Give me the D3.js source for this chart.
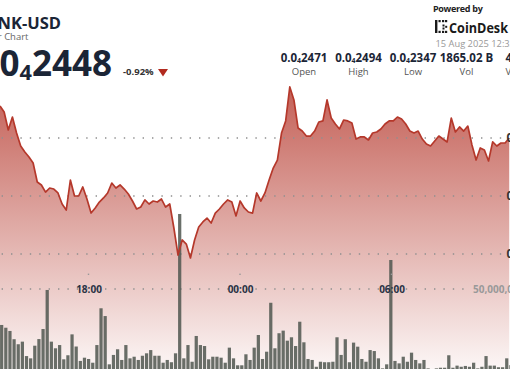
<!DOCTYPE html>
<html><head><meta charset="utf-8">
<script src="https://cdn.jsdelivr.net/npm/d3@7"></script>
<style>html,body{margin:0;padding:0;background:#fff;overflow:hidden}svg{display:block;font-family:"Open Sans","Noto Sans",sans-serif}</style>
</head><body>
<svg id="c" width="510" height="369"></svg>
<script>
// ---- data (price in units of 0.0₄xxxx, i.e. 1e-8 USD; volume in millions) ----
const prices = [2477.6, 2472.4, 2456.9, 2468.1, 2454.3, 2443.1, 2437.9, 2433.6, 2428.4, 2412.1,
 2409.5, 2403.4, 2406.9, 2406.0, 2402.6, 2393.1, 2387.9, 2413.8, 2400.0, 2400.0,
 2407.8, 2397.4, 2385.3, 2389.7, 2394.8, 2398.3, 2402.6, 2411.2, 2406.9, 2409.5,
 2406.0, 2401.7, 2395.7, 2388.8, 2390.5, 2396.6, 2393.1, 2395.7, 2394.8, 2397.4,
 2390.5, 2393.1, 2372.4, 2349.1, 2362.1, 2358.6, 2346.6, 2362.1, 2373.3, 2377.6,
 2381.0, 2376.7, 2385.3, 2388.8, 2393.1, 2396.6, 2394.8, 2382.8, 2395.7, 2389.7,
 2386.2, 2385.3, 2402.6, 2395.7, 2402.6, 2413.8, 2424.1, 2431.0, 2454.3, 2464.7,
 2494.0, 2482.8, 2458.6, 2456.0, 2451.7, 2451.7, 2456.0, 2463.8, 2464.7, 2482.8,
 2467.2, 2462.1, 2457.8, 2465.5, 2464.7, 2462.9, 2449.1, 2450.9, 2450.9, 2448.3,
 2454.3, 2455.2, 2457.8, 2462.1, 2464.7, 2464.7, 2468.1, 2466.4, 2462.1, 2456.0,
 2454.3, 2456.0, 2449.1, 2444.8, 2443.1, 2447.4, 2451.7, 2449.1, 2446.6, 2467.2,
 2455.2, 2459.5, 2456.0, 2460.3, 2444.0, 2431.0, 2441.4, 2439.7, 2430.2, 2446.6,
 2443.1, 2445.7, 2445.7, 2450.0];
const volumes = [27.8, 26.1, 24.1, 19.0, 15.9, 17.5, 8.6, 7.2, 15.0, 19.1,
 25.3, 49.4, 17.5, 13.4, 15.4, 6.6, 9.1, 22.0, 14.5, 5.6,
 7.6, 6.8, 4.5, 15.4, 38.1, 33.3, 3.5, 9.3, 12.8, 6.2,
 15.4, 7.2, 8.2, 6.2, 8.8, 10.3, 12.3, 8.8, 8.8, 4.5,
 6.2, 4.8, 10.3, 96.3, 7.2, 15.4, 5.1, 21.0, 15.4, 14.8,
 6.6, 8.2, 8.2, 7.6, 4.5, 13.8, 7.2, 2.9, 2.9, 9.7,
 6.2, 13.8, 21.6, 6.8, 11.3, 41.5, 13.4, 22.7, 24.3, 18.1,
 20.2, 14.8, 29.8, 17.1, 6.8, 6.2, 2.0, 5.1, 4.8, 4.8,
 5.1, 20.2, 9.3, 19.0, 4.8, 16.9, 14.4, 6.8, 5.1, 12.3,
 11.7, 7.2, 1.0, 3.5, 67.9, 5.6, 4.1, 8.2, 5.1, 10.7,
 6.2, 4.1, 6.2, 1.0, 0.3, 1.0, 1.4, 1.4, 9.1, 1.4,
 2.7, 2.0, 2.5, 2.0, 4.5, 1.0, 2.0, 8.6, 2.7, 2.7,
 1.7, 1.7, 7.2, 3.0];
const timeTicks = ["2025-08-14T18:00:00Z", "2025-08-15T00:00:00Z", "2025-08-15T06:00:00Z"];
const priceTicks = [2350, 2400, 2450];
const priceTickLabels = ["0.0₄2350", "0.0₄2400", "0.0₄2450"];
const volumeTicks = [50];
const volumeTickLabels = ["50,000,000"];
const statValues = ["0.0₄2471", "0.0₄2494", "0.0₄2347", "1865.02 B", "45.70 M"];
const statLabels = ["Open", "High", "Low", "Vol", "Vol USD"];
const title = "BONK-USD";
const subtitle = "24 Hour Chart";
const lastPrice = "0.0₄2448";
const change = "-0.92%";
const dateText = "15 Aug 2025 12:32 UTC";

// ---- drawing ----
const svg = d3.select("#c");
const W = 510, H = 369;
const dark = "#1b2536";

const x = d3.scaleLinear().domain([0, prices.length - 1]).range([0, (prices.length - 1) * 4.14]);
const xb = d3.scaleBand().domain(d3.range(volumes.length)).range([-0.4, -0.4 + volumes.length * 4.14]).paddingInner(0.22).paddingOuter(0.11);
const y = d3.scaleLinear().domain([2350, 2450]).range([254, 138]);
const yv = d3.scaleLinear().domain([0, 50]).range([370, 289]);
const xt = d3.scaleUtc().domain([new Date("2025-08-14T18:00:00Z"), new Date("2025-08-15T06:00:00Z")]).range([88.5, 391.5]);

const defs = svg.append("defs");
const g = defs.append("linearGradient").attr("id", "ag").attr("gradientUnits", "userSpaceOnUse")
  .attr("x1", 0).attr("x2", 0).attr("y1", 83).attr("y2", 369);
g.append("stop").attr("offset", "0%").attr("stop-color", "rgb(190,80,70)").attr("stop-opacity", 0.92);
g.append("stop").attr("offset", "100%").attr("stop-color", "rgb(190,80,70)").attr("stop-opacity", 0.05);

function subText(sel, str, size, ratio = 0.6) {
  const parts = str.split("₄");
  sel.append("tspan").text(parts[0]);
  if (parts.length > 1) {
    sel.append("tspan").attr("font-size", size * ratio).attr("dy", size * 0.1).text("4");
    sel.append("tspan").attr("font-size", size).attr("dy", -size * 0.1).text(parts[1]);
  }
}

// area
svg.append("path").datum(prices)
  .attr("d", d3.area().x((d, i) => x(i)).y0(H).y1(d => y(d)))
  .attr("fill", "url(#ag)");

// grid lines
const grid = svg.append("g").attr("stroke", "#8f8f8f").attr("stroke-width", 1.3).attr("stroke-dasharray", "1.4 8");
priceTicks.forEach(t => grid.append("line").attr("x1", 1.6).attr("x2", 502).attr("y1", y(t)).attr("y2", y(t)));
volumeTicks.forEach(t => grid.append("line").attr("x1", 1.6).attr("x2", 468).attr("y1", yv(t)).attr("y2", yv(t)));

// volume bars
svg.append("g").selectAll("rect").data(volumes).join("rect")
  .attr("x", (d, i) => xb(i)).attr("width", xb.bandwidth())
  .attr("y", d => yv(d)).attr("height", d => yv(0) - yv(d))
  .attr("fill", "#4f564f").attr("opacity", 0.85);

// price line
svg.append("path").datum(prices)
  .attr("d", d3.line().x((d, i) => x(i)).y(d => y(d)))
  .attr("fill", "none").attr("stroke", "#b5382b").attr("stroke-width", 1.7).attr("stroke-linejoin", "round");

// time axis
const ta = svg.append("g").attr("transform", "translate(0,293)")
  .call(d3.axisBottom(xt).tickValues(timeTicks.map(d => new Date(d))).tickFormat(d3.utcFormat("%H:%M")).tickSize(0));
ta.select(".domain").remove();
ta.selectAll("text").attr("y", 0).attr("dy", 0).attr("fill", "#2a3345")
  .attr("font-size", 10).attr("font-weight", 700).attr("font-family", "Open Sans");
timeTicks.forEach(d => svg.append("rect").attr("x", xt(new Date(d)) - 0.7).attr("y", 273.6).attr("width", 1.4).attr("height", 1.4).attr("fill", "#999"));

// price labels
priceTicks.forEach((t, i) => {
  const tx = svg.append("text").attr("x", 506.5).attr("y", y(t) + 4).attr("font-size", 11.5).attr("font-weight", 700).attr("fill", "#333");
  subText(tx, priceTickLabels[i], 11.5);
});
volumeTicks.forEach((t, i) => svg.append("text").attr("x", 473).attr("y", yv(t) + 3.6).attr("font-size", 10)
  .attr("font-weight", 700).attr("fill", "#999").text(volumeTickLabels[i]));

// header
svg.append("text").attr("x", 61).attr("y", 29).attr("text-anchor", "end").attr("font-size", 16.5).attr("font-weight", 700).attr("fill", dark).text(title);
svg.append("text").attr("x", 28.5).attr("y", 40).attr("text-anchor", "end").attr("font-size", 9.5).attr("fill", "#666").text(subtitle);
const bp = svg.append("text").attr("x", 112).attr("y", 76).attr("text-anchor", "end").attr("font-size", 35).attr("font-weight", 700).attr("fill", dark);
subText(bp, lastPrice, 35, 0.62);
svg.append("text").attr("x", 123).attr("y", 75).attr("font-size", 9.5).attr("font-weight", 700).attr("fill", "#333").text(change);
svg.append("path").attr("d", "M158,69 L168,69 L163,76.5 Z").attr("fill", "#b22a1f");

// stats
const statX = [304, 358.5, 413, 466.5];
statValues.forEach((v, i) => {
  const cx = i < statX.length ? statX[i] : 505.5;
  const anchor = i < statX.length ? "middle" : "start";
  const t = svg.append("text").attr("x", cx).attr("y", 62).attr("text-anchor", anchor).attr("font-size", 11.5).attr("font-weight", 700).attr("fill", dark);
  subText(t, v, 11.5);
  svg.append("text").attr("x", cx).attr("y", 75).attr("text-anchor", anchor).attr("font-size", 9.5).attr("fill", "#555").text(statLabels[i]);
});

// powered by
svg.append("text").attr("x", 433).attr("y", 12).attr("font-size", 9).attr("font-weight", 700).attr("fill", "#222").attr("letter-spacing", -0.3).text("Powered by");
const logo = svg.append("g").attr("fill", "#1a1a1a");
[[435, 20, 2.4, 13], [438.5, 20, 2.2, 2.2], [442, 20, 2.2, 2.2], [445, 20, 2.2, 2.2], [438.5, 30.8, 2.2, 2.2], [442, 30.8, 2.2, 2.2], [445, 30.8, 2.2, 2.2],
 [442.5, 24.5, 2, 2], [442.5, 27.5, 2, 2], [445.2, 25.8, 2, 2]].forEach(r => logo.append("rect").attr("x", r[0]).attr("y", r[1]).attr("width", r[2]).attr("height", r[3]));
svg.append("text").attr("x", 449).attr("y", 32.5).attr("font-size", 15).attr("font-weight", 700).attr("fill", "#1a1a1a")
  .attr("textLength", 59).attr("lengthAdjust", "spacingAndGlyphs").text("CoinDesk");
svg.append("text").attr("x", 435.5).attr("y", 47).attr("font-size", 9.3).attr("fill", "#999").text(dateText);
</script>
</body></html>
